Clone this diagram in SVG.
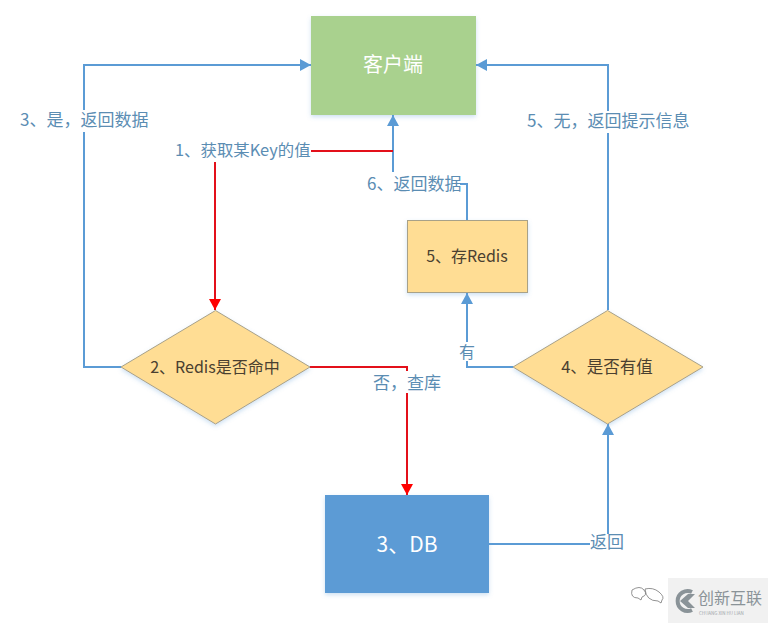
<svg xmlns="http://www.w3.org/2000/svg" width="768" height="623" viewBox="0 0 768 623">
<style>
text{font-family:"Noto Sans CJK SC","Noto Sans",sans-serif}
.lb{font-size:17px;fill:#5b8db3}
.nt{font-size:16px;fill:#4a4030;text-anchor:middle}
.w{fill:#fff;text-anchor:middle}
.b{fill:none;stroke:#5b9bd5;stroke-width:2}
.r{fill:none;stroke:#e3101a;stroke-width:2}
.y{fill:#ffdd94;stroke:#a8a188;stroke-width:1}
</style>
<defs>
<marker id="ab" markerUnits="userSpaceOnUse" markerWidth="12" markerHeight="12" refX="11" refY="6" orient="auto"><path d="M0 0L11 6L0 12Z" fill="#5b9bd5"/></marker>
<marker id="ar" markerUnits="userSpaceOnUse" markerWidth="12" markerHeight="12" refX="11" refY="6" orient="auto"><path d="M0 0L11 6L0 12Z" fill="#f00"/></marker>
<filter id="s" x="-10%" y="-10%" width="120%" height="125%"><feDropShadow dx="0" dy="2" stdDeviation="2" flood-color="#5b9bd5" flood-opacity=".3"/></filter>
</defs>
<rect width="768" height="623" fill="#fff"/>
<g id="connectors">
<path class="b" d="M121 367H84V65H311" marker-end="url(#ab)"/>
<path class="b" d="M608 310V65H476" marker-end="url(#ab)"/>
<path class="b" d="M393 172V115" marker-end="url(#ab)"/>
<path class="r" d="M311 151H393"/>
<path class="r" d="M215 162V310" marker-end="url(#ar)"/>
<path class="b" d="M460 184H467V220"/>
<path class="b" d="M513 367H467V293" marker-end="url(#ab)"/>
<path class="r" d="M310 367H407V371"/>
<path class="r" d="M407 393V495" marker-end="url(#ar)"/>
<path class="b" d="M489 544H590"/>
<path class="b" d="M608 534V424" marker-end="url(#ab)"/>
</g>
<g id="client"><rect x="311" y="16" width="165" height="99" fill="#a9d18e" filter="url(#s)"/><text class="w" x="393" y="72" font-size="20">客户端</text></g>
<g id="save-redis"><rect class="y" x="407.500" y="220.500" width="120" height="72" filter="url(#s)"/><text class="nt" x="467" y="262">5、存Redis</text></g>
<g id="redis-hit"><path class="y" d="M121 367L215.500 310.500L310 367L215.500 424Z" filter="url(#s)"/><text class="nt" x="215" y="372.500">2、Redis是否命中</text></g>
<g id="has-value"><path class="y" d="M513 367L607.500 310.500L703 367L607.500 424Z" filter="url(#s)"/><text class="nt" x="607" y="372.500" style="font-size:16.500px">4、是否有值</text></g>
<g id="db"><rect x="325" y="495" width="164" height="98" fill="#5b9bd5" filter="url(#s)"/><text class="w" x="407" y="552" font-size="21">3、DB</text></g>
<g id="labels">
<rect x="20" y="110" width="127" height="22" fill="#fff"/>
<rect x="527" y="111" width="161" height="22" fill="#fff"/>
<rect x="459" y="342" width="16" height="19" fill="#fff"/>
<text class="lb" x="20" y="126">3、是，返回数据</text>
<text class="lb" x="175" y="156" style="font-size:16.400px">1、获取某Key的值</text>
<text class="lb" x="367" y="190">6、返回数据</text>
<text class="lb" x="527" y="127">5、无，返回提示信息</text>
<text class="lb" x="459" y="358" style="font-size:16px">有</text>
<text class="lb" x="373" y="389">否，查库</text>
<text class="lb" x="590" y="548">返回</text>
</g>
<g id="watermark">
<rect x="668" y="578" width="100" height="45" fill="#f1f1f1"/>
<path d="M632 590q8-5 12 0t-2 7l-1 3-3-2q-8 0-6-8ZM645 589q8-2 14 3t3 8l-1 3-3-2q-12 0-13-12Z" fill="none" stroke="#777" stroke-width=".8"/>
<path d="M692 592a10 10 0 1 0 0 18" fill="none" stroke="#8a9398" stroke-width="4"/>
<path d="M680 601l8-7h7l-7 7 7 7h-7Z" fill="#8a9398"/>
<text x="698" y="604" font-size="16" fill="#8a9398">创新互联</text>
<text x="699" y="615" font-size="4.500" fill="#a0a6aa">CHUANG XIN HU LIAN</text>
</g>
</svg>
